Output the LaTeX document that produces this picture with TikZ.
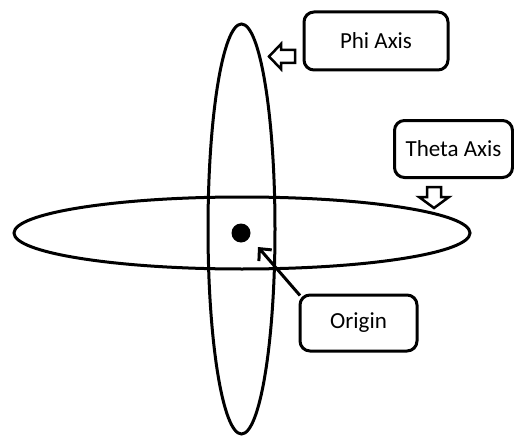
\documentclass[tikz,border=0pt]{standalone}
\usepackage{fontspec}
\setmainfont{Carlito}
\usetikzlibrary{arrows.meta,calc}
\begin{document}
\begin{tikzpicture}[x=1pt,y=-1pt,
  axisline/.style={line width=3pt},
  label box/.style={draw,line width=3pt,rounded corners=10pt,inner sep=0pt,
    font=\fontsize{23}{27}\selectfont},
  hollow arrow/.style={draw,line width=2.5pt,line join=miter,fill=white},
  pointer/.style={line width=3pt,-{Straight Barb[length=9pt,width=17pt,line width=3pt]}}]
  \useasboundingbox (0,0) rectangle (514,436);
  % the two axes
  \draw[axisline] (242,233) ellipse[x radius=228,y radius=36];
  \draw[axisline] (241.5,229) ellipse[x radius=33.5,y radius=205];
  % origin point
  \node[circle,fill=black,minimum size=19pt,inner sep=0pt] (dot) at (241,233) {};
  % labels
  \node[label box,minimum width=144pt,minimum height=58pt] (phi) at (376,41) {Phi Axis};
  \node[label box,minimum width=118pt,minimum height=57pt] (theta) at (453.5,149) {Theta Axis};
  \node[label box,minimum width=117pt,minimum height=56pt] (origin) at (358.5,323) {Origin};
  % hollow arrow towards the phi axis
  \coordinate (phitip) at (269,56.5);
  \draw[hollow arrow] (phitip) -- ++(12,-12.5) -- ++(0,6) -- ++(14,0) -- ++(0,13)
    -- ++(-14,0) -- ++(0,6) -- cycle;
  % hollow arrow towards the theta axis
  \coordinate (thetatip) at (434,208);
  \draw[hollow arrow] (thetatip) -- ++(-15,-11) -- ++(8,0) -- ++(0,-10) -- ++(14,0)
    -- ++(0,10) -- ++(8,0) -- cycle;
  % pointer from the origin label to the point
  \draw[pointer] ($(origin.north west)+(1.5,2)$) -- ($(dot)+(17,14)$);
\end{tikzpicture}
\end{document}
